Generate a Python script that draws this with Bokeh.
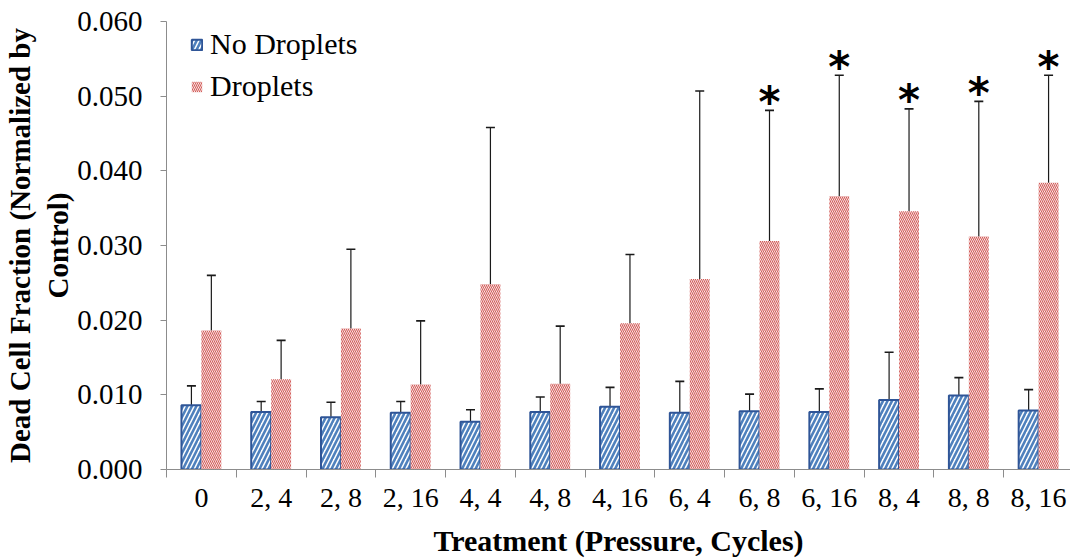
from bokeh.plotting import figure
from bokeh.models import (ColumnDataSource, Range1d, FixedTicker, NumeralTickFormatter,
                          Whisker, TeeHead, Legend, LegendItem)
from bokeh.transform import dodge
from bokeh.core.properties import value
from bokeh.embed import file_html
from bokeh.resources import INLINE

categories = ["0", "2, 4", "2, 8", "2, 16", "4, 4", "4, 8", "4, 16",
              "6, 4", "6, 8", "6, 16", "8, 4", "8, 8", "8, 16"]
no_drop = [0.0086, 0.0077, 0.0070, 0.0076, 0.0064, 0.0077, 0.0084,
           0.0076, 0.0078, 0.0077, 0.0093, 0.0099, 0.0079]
no_drop_hi = [0.0112, 0.0091, 0.0090, 0.0091, 0.0080, 0.0097, 0.0110,
              0.0118, 0.0101, 0.0108, 0.0157, 0.0123, 0.0107]
no_drop_lo = [0.0058, 0.0062, 0.0051, 0.0060, 0.0048, 0.0056, 0.0056,
              0.0033, 0.0055, 0.0048, 0.0030, 0.0075, 0.0050]
drop = [0.0186, 0.0121, 0.0189, 0.0114, 0.0248, 0.0115, 0.0196,
        0.0255, 0.0306, 0.0366, 0.0346, 0.0312, 0.0384]
drop_hi = [0.0260, 0.0173, 0.0295, 0.0199, 0.0458, 0.0192, 0.0288,
           0.0507, 0.0481, 0.0528, 0.0483, 0.0493, 0.0528]
drop_lo = [0.0114, 0.0069, 0.0084, 0.0031, 0.0037, 0.0040, 0.0105,
           0.0002, 0.0133, 0.0205, 0.0212, 0.0139, 0.0240]
significant = [False, False, False, False, False, False, False, False,
               True, True, True, True, True]
y_ticks = [0.0, 0.01, 0.02, 0.03, 0.04, 0.05, 0.06]

idx = list(range(len(categories)))
src = ColumnDataSource(dict(x=idx, nd=no_drop, nd_hi=no_drop_hi, nd_lo=no_drop_lo,
                            d=drop, d_hi=drop_hi, d_lo=drop_lo))
star_x = [i for i, s in zip(idx, significant) if s]
star_y = [h for h, s in zip(drop_hi, significant) if s]
star_src = ColumnDataSource(dict(x=star_x, y=star_y, t=["*"] * len(star_x)))

SERIF = "Liberation Serif"

FRAME_LEFT = 163
FRAME_TOP = 21
FRAME_BOTTOM = 469
W, H = 1070, 559
cat_px = 70.0
frame_w = W - FRAME_LEFT

p = figure(width=W, height=H, output_backend="svg", toolbar_location=None,
           x_range=Range1d(-0.5, -0.5 + frame_w / cat_px), y_range=Range1d(0, 0.06),
           min_border_left=FRAME_LEFT, min_border_right=0, min_border_top=FRAME_TOP,
           min_border_bottom=H - FRAME_BOTTOM)
p.outline_line_color = None
p.xgrid.visible = False
p.ygrid.visible = False
p.background_fill_color = "white"
p.border_fill_color = "white"

off = 10.0 / cat_px
bw = 20.0 / cat_px

r_nd = p.vbar(x=dodge("x", -off, range=p.x_range), top="nd", width=bw, source=src,
              fill_color="white", line_color="#2F5597", line_width=2,
              hatch_pattern="/", hatch_color="#4F81BD", hatch_scale=9, hatch_weight=2.6)
r_d = p.vbar(x=dodge("x", off, range=p.x_range), top="d", width=bw, source=src,
             fill_color="white", line_color=None,
             hatch_pattern="\\", hatch_color="#D25A57", hatch_scale=4, hatch_weight=1.1)

for col_x, hi, lo in ((-off, "nd_hi", "nd_lo"), (off, "d_hi", "d_lo")):
    wk = Whisker(base=dodge("x", col_x, range=p.x_range), upper=hi, lower=lo, source=src,
                 line_color="#1a1a1a", line_width=1.2,
                 upper_head=TeeHead(size=9, line_color="#1a1a1a", line_width=1.6),
                 lower_head=TeeHead(size=9, line_color="#1a1a1a", line_width=1.6))
    p.add_layout(wk)

p.text(x=dodge("x", off, range=p.x_range), y="y", text="t", source=star_src,
       text_font=value("DejaVu Sans"), text_font_style="bold",
       text_font_size="42px", text_align="center", text_baseline="alphabetic",
       y_offset=-8, text_color="black")

# axes
axis_gray = "#8C8C8C"
p.yaxis.ticker = FixedTicker(ticks=y_ticks)
p.yaxis.formatter = NumeralTickFormatter(format="0.000")
p.yaxis.axis_line_color = axis_gray
p.yaxis.major_tick_line_color = axis_gray
p.yaxis.major_tick_out = 6
p.yaxis.major_tick_in = 0
p.yaxis.minor_tick_line_color = None
p.yaxis.minor_tick_out = 0
p.yaxis.major_label_text_font = SERIF
p.yaxis.major_label_text_font_size = "29px"
p.yaxis.major_label_text_color = "black"
p.yaxis.major_label_standoff = 18
p.yaxis.axis_label = "Dead Cell Fraction (Normalized by\nControl)"
p.yaxis.axis_label_text_font = SERIF
p.yaxis.axis_label_text_font_style = "bold"
p.yaxis.axis_label_text_font_size = "29px"
p.yaxis.axis_label_text_color = "black"
p.yaxis.axis_label_standoff = 0

p.xaxis.ticker = FixedTicker(ticks=idx, minor_ticks=[i - 0.5 for i in idx] + [len(idx) - 0.5])
p.xaxis.major_label_overrides = {i: c for i, c in zip(idx, categories)}
p.xaxis.axis_line_color = axis_gray
p.xaxis.major_tick_line_color = None
p.xaxis.major_tick_out = 0
p.xaxis.major_tick_in = 0
p.xaxis.minor_tick_line_color = axis_gray
p.xaxis.minor_tick_out = 8
p.xaxis.minor_tick_in = 0
p.xaxis.major_label_text_font = SERIF
p.xaxis.major_label_text_font_size = "28px"
p.xaxis.major_label_text_color = "black"
p.xaxis.major_label_standoff = 4
p.xaxis.axis_label = "Treatment (Pressure, Cycles)"
p.xaxis.axis_label_text_font = SERIF
p.xaxis.axis_label_text_font_style = "bold"
p.xaxis.axis_label_text_font_size = "30px"
p.xaxis.axis_label_text_color = "black"
p.xaxis.axis_label_standoff = 8

legend = Legend(items=[LegendItem(label="No Droplets", renderers=[r_nd]),
                       LegendItem(label="Droplets", renderers=[r_d])],
                location=(24, 366), padding=0, margin=0, spacing=8,
                glyph_width=13, glyph_height=13, label_height=34, label_standoff=7,
                label_text_font=SERIF, label_text_font_size="30px",
                label_text_color="black", border_line_color=None,
                background_fill_alpha=0)
p.add_layout(legend)

open("out.html", "w").write(file_html(p, INLINE))
